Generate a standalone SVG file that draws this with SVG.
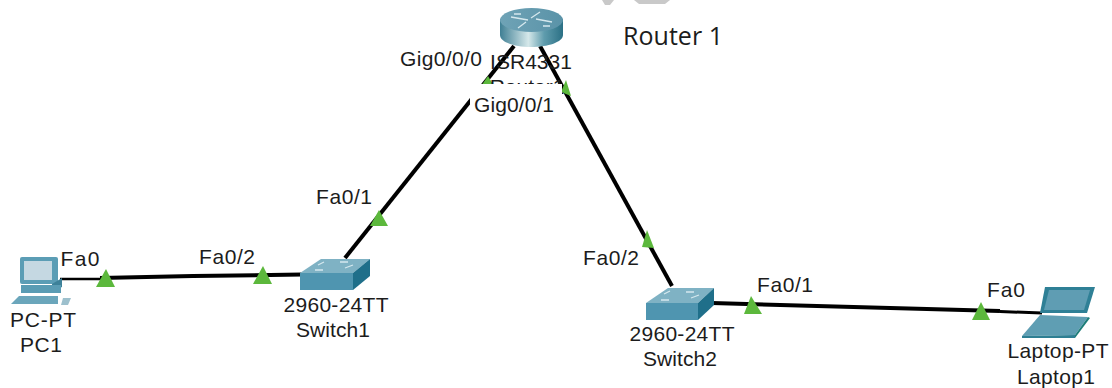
<svg xmlns="http://www.w3.org/2000/svg" width="1112" height="388" viewBox="0 0 1112 388">
<style>
text{font-family:"Liberation Sans",Arial,sans-serif;font-size:21px;fill:#1c1c1c;text-anchor:middle}
.link{stroke:#000;stroke-width:4;fill:none;stroke-linecap:butt}
.tri{fill:#5cb83c}
.sw-top{fill:#7fb2c4}.sw-front{fill:#4f95b0}.sw-side{fill:#1f6f8a}
.mark{stroke:#d5e8ee;stroke-width:1.300;fill:none}
</style>
<defs>
<linearGradient id="rb" x1="0" x2="1" y1="0" y2="0"><stop offset="0" stop-color="#3f7f94"/><stop offset=".45" stop-color="#d5e8ea"/><stop offset=".7" stop-color="#5f9cad"/><stop offset="1" stop-color="#2b7085"/></linearGradient>
<linearGradient id="rt" x1="0" x2="1" y1="0" y2="0"><stop offset="0" stop-color="#6fa3b6"/><stop offset="1" stop-color="#5a93a8"/></linearGradient>
</defs>
<rect width="1112" height="388" fill="#fff"/>
<path d="M602 0h12l-4 5h-5zM634 0h36l-5 4h-26z" fill="#c9c9c9"/>
<g id="connectors">
<path class="link" d="M514 46L345 258"/>
<path class="link" d="M540 46L672 286"/>
<path class="link" d="M100 278L193 276L302 274.500"/>
<path d="M60 279H100" stroke="#000" stroke-width="2.500"/>
<path class="link" d="M712 303L1000 311"/>
<path d="M1000 311.500L1042 313" stroke="#000" stroke-width="3"/>
<polygon class="tri" points="106,269 115,287 96,287"/>
<polygon class="tri" points="263,266 272,284 253,284"/>
<polygon class="tri" points="379,210 388,226 370,226"/>
<polygon class="tri" points="488,76 494,86 481,86"/>
<polygon class="tri" points="566,80 571,96 561,92"/>
<polygon class="tri" points="647,230 654,248 642,247"/>
<polygon class="tri" points="751,296 762,314 744,314"/>
<polygon class="tri" points="981,302 990,320 972,320"/>
</g>
<text x="527" y="94">Router1</text>
<g id="label-box"><rect x="470" y="84" width="92" height="36" fill="#fff"/></g>
<g id="router">
<path d="M500 19V35C500 42 514 47 531 47S563 42 563 35V19Z" fill="url(#rb)"/>
<ellipse cx="531.500" cy="20" rx="31.500" ry="12" fill="url(#rt)"/>
<path class="mark" stroke-width="2" d="M511 17L528 20M521 14L514 14M552 22L536 19M543 26L550 26M540 12L531 18M526 22L518 28"/>
</g>
<g id="switch1">
<polygon class="sw-top" points="300,273 353,273 370,259 321,259"/>
<polygon class="sw-front" points="300,273 353,273 353,290 300,290"/>
<polygon class="sw-side" points="353,273 370,259 370,276 353,290"/>
<path class="mark" d="M318 265l6-3M340 262h8M315 270h8M345 268l8-3"/>
</g>
<g id="switch2">
<polygon class="sw-top" points="646,303 698,303 714,288 668,288"/>
<polygon class="sw-front" points="646,303 698,303 698,320 646,320"/>
<polygon class="sw-side" points="698,303 714,288 714,305 698,320"/>
<path class="mark" d="M664 294l6-3M686 292h8M661 300h8M691 298l8-3"/>
</g>
<g id="pc1">
<rect x="20" y="257" width="38" height="27" rx="2" fill="#5b9db5"/>
<rect x="24" y="261" width="28" height="19" fill="#c5d8e2"/>
<path d="M52 284L62 278V287L52 292Z" fill="#3d8199"/>
<rect x="21" y="285" width="40" height="8" fill="#5a9cb4"/>
<polygon points="19,296 58,296 58,304 11,304" fill="#6ba6bb"/>
<polygon points="63,298 71,298 68,305 61,305" fill="#9dc0cd"/>
</g>
<g id="laptop1">
<polygon points="1045,287 1095,287 1087,313 1040,313" fill="#2f8096"/>
<polygon points="1049,290 1090,290 1084,310 1044,310" fill="#5f9db3"/>
<polygon points="1040,315 1088,317 1075,335 1022,336" fill="#5f9eb3"/>
<polygon points="1022,336 1075,335 1075,338 1022,338" fill="#2e7f93"/>
<path d="M1088 317L1075 335V338L1090 318Z" fill="#1c7c78"/>
</g>
<g id="labels">
<text x="43" y="327" textLength="66">PC-PT</text>
<text x="41" y="352" textLength="42">PC1</text>
<text x="80" y="266" textLength="39">Fa0</text>
<text x="227" y="264" textLength="56">Fa0/2</text>
<text x="336" y="312" textLength="105">2960-24TT</text>
<text x="333" y="337" textLength="74">Switch1</text>
<text x="344" y="204" textLength="56">Fa0/1</text>
<text x="441" y="66" textLength="82">Gig0/0/0</text>
<text x="531" y="69" textLength="82">ISR4331</text>
<text x="514" y="112" textLength="80">Gig0/0/1</text>
<text x="611" y="265" textLength="56">Fa0/2</text>
<text x="682" y="341" textLength="105">2960-24TT</text>
<text x="680" y="366" textLength="74">Switch2</text>
<text x="785" y="292" textLength="56">Fa0/1</text>
<text x="1006" y="297" textLength="38">Fa0</text>
<text x="1058" y="358" textLength="101">Laptop-PT</text>
<text x="1056" y="384" textLength="78">Laptop1</text>
<text x="673" y="45" textLength="100" style="font-family:'Open Sans','Noto Sans',sans-serif;font-size:25px">Router 1</text>
</g>
</svg>
